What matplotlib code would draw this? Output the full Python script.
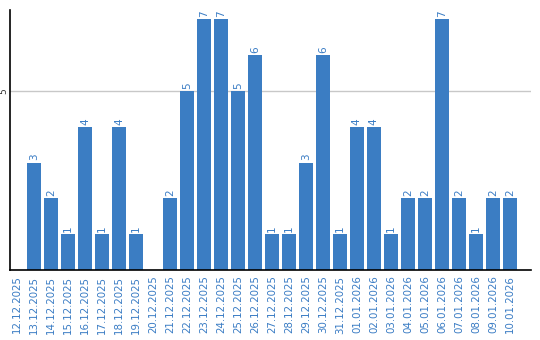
import matplotlib
matplotlib.use("Agg")
import matplotlib.pyplot as plt
import numpy as np

dates = ['12.12.2025', '13.12.2025', '14.12.2025', '15.12.2025', '16.12.2025',
         '17.12.2025', '18.12.2025', '19.12.2025', '20.12.2025', '21.12.2025',
         '22.12.2025', '23.12.2025', '24.12.2025', '25.12.2025', '26.12.2025',
         '27.12.2025', '28.12.2025', '29.12.2025', '30.12.2025', '31.12.2025',
         '01.01.2026', '02.01.2026', '03.01.2026', '04.01.2026', '05.01.2026',
         '06.01.2026', '07.01.2026', '08.01.2026', '09.01.2026', '10.01.2026']
counts = [0, 3, 2, 1, 4, 1, 4, 1, 0, 2,
          5, 7, 7, 5, 6, 1, 1, 3, 6, 1,
          4, 4, 1, 2, 2, 7, 2, 1, 2, 2]

bar_color = '#3b7dc3'
text_color = '#3a7cc4'

fig = plt.figure(figsize=(5.4, 3.4), dpi=100)
ax = fig.add_axes([10/540, 70/340, 521/540, 260/340])

x = np.arange(len(dates))
ax.bar(x, counts, width=0.82, color=bar_color, zorder=2)

for xi, v in zip(x, counts):
    if v > 0:
        ax.text(xi, v + 0.06, str(v), rotation=90, ha='center', va='bottom',
                fontsize=7.5, color=text_color)

ax.set_xlim(-0.41, 30.24)
ax.set_ylim(0, 7.26)
ax.set_yticks([5])
ax.set_yticklabels(['5'], rotation=90, va='center', fontsize=6.5, color='#333333')
ax.yaxis.grid(True, color='#c8c8c8', linewidth=1, zorder=0)
ax.set_xticks(x)
ax.set_xticklabels(dates, rotation=90, fontsize=7.4, color=text_color)
ax.tick_params(length=0, pad=4)
ax.tick_params(axis='y', pad=1)

for s in ['top', 'right']:
    ax.spines[s].set_visible(False)
for s in ['left', 'bottom']:
    ax.spines[s].set_color('black')
    ax.spines[s].set_linewidth(1.2)

fig.savefig('out.png', dpi=100)
